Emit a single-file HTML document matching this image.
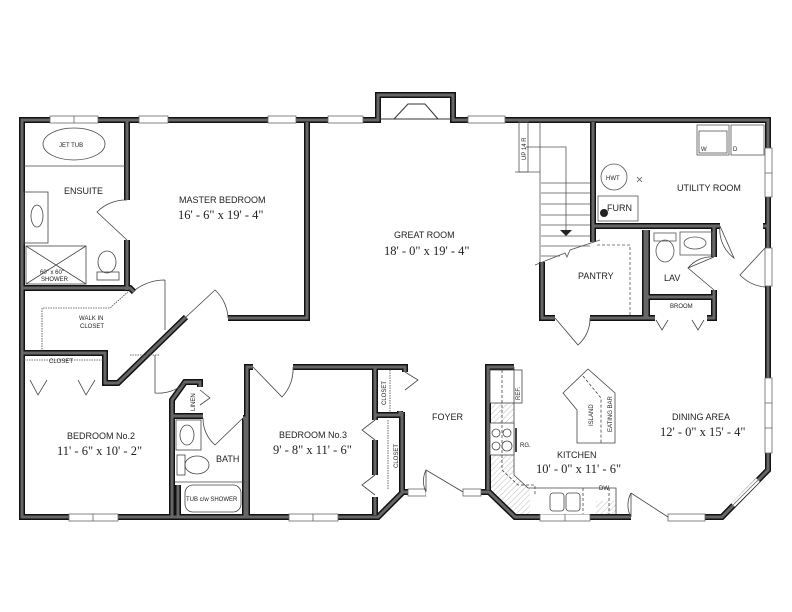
<!DOCTYPE html>
<html><head><meta charset="utf-8"><style>
html,body{margin:0;padding:0;background:#fff;}
svg{display:block;}
text{font-family:"Liberation Sans",sans-serif;fill:#222;}
.s{font-family:"Liberation Serif",serif;font-size:12.5px;}
.l{font-size:9px;}
.t{font-size:6px;}
</style></head><body>
<svg width="792" height="612" viewBox="0 0 792 612" xmlns="http://www.w3.org/2000/svg">
<defs>
<pattern id="h" width="4" height="4" patternUnits="userSpaceOnUse" patternTransform="rotate(45)"><line x1="0" y1="0" x2="0" y2="4" stroke="#bbb" stroke-width="1"/></pattern>
<g id="w" fill="none">
<path d="M22,120 H378 V95 H453 V120 H768 V470 L722,517 H515 L489,492 H403 L378,517 H22 Z"/>
<path d="M127,120 V200 M127,240 V290 M22,288 H130 L134,292"/>
<path d="M307,122 V318 H228"/>
<path d="M186,317 L118,383 H105 V353 H22"/>
<path d="M172,517 V400 L185,382 H200 V387 M172,416 H203"/>
<path d="M247,517 V367 H253 M293,367 H405 V372 M245,517 V418 H243"/>
<path d="M375,367 V420 M375,440 V475 M375,497 V515 M375,415 H400 V411 M402,412 V492"/>
<path d="M514,367 H488 V490"/>
<path d="M593,122 V242 M593,226 H720 M763,226 H768"/>
<path d="M542,262 V318 H555 M590,318 H645 V230 M647,230 V318 H655 M714,226 V257 M714,290 V318 H707 M647,297 H714"/>
<path d="M178,485 V517"/>
</g>
</defs>
<path d="M490,370 H514 V475 L530,488 H616 V514 H517 L490,490 Z" fill="url(#h)"/>
<use href="#w" stroke="#111" stroke-width="6"/>
<use href="#w" stroke="#666" stroke-width="3"/>
<polygon points="383,119 383,100 448,100 448,119" fill="#fff"/>
<polyline points="394,119 408,104 425,104 438,119" fill="none" stroke="#333" stroke-width="1"/>
<line x1="380" y1="119" x2="451" y2="119" stroke="#333"/>
<g fill="#fff" stroke="#666" stroke-width="0.8">
<rect x="50" y="116" width="48" height="7"/><line x1="74" y1="116" x2="74" y2="123"/>
<rect x="139" y="116" width="29" height="7"/>
<rect x="268" y="116" width="28" height="7"/>
<rect x="328" y="116" width="35" height="7"/>
<rect x="468" y="116" width="37" height="7"/>
<rect x="765" y="148" width="7" height="49"/><line x1="765" y1="173" x2="772" y2="173"/>
<rect x="765" y="248" width="7" height="38"/>
<rect x="765" y="378" width="7" height="75"/><line x1="765" y1="403" x2="772" y2="403"/><line x1="765" y1="428" x2="772" y2="428"/>
<rect x="69" y="514" width="49" height="7"/><line x1="93" y1="514" x2="93" y2="521"/>
<rect x="289" y="514" width="49" height="7"/><line x1="313" y1="514" x2="313" y2="521"/>
<rect x="540" y="514" width="50" height="7"/><line x1="565" y1="514" x2="565" y2="521"/>
<rect x="631" y="514" width="37" height="7" stroke="none"/>
<rect x="668" y="514" width="37" height="7"/>
<rect x="408" y="489" width="18" height="7"/><rect x="426" y="489" width="37" height="7" stroke="none"/><rect x="463" y="489" width="18" height="7"/>
</g>
<line x1="733" y1="505" x2="758" y2="480" stroke="#fff" stroke-width="5"/>
<line x1="733" y1="505" x2="758" y2="480" stroke="#666" stroke-width="0.8"/>
<g fill="none" stroke="#444" stroke-width="0.8">
<path d="M127,240 L97,212 A40,40 0 0 1 127,200"/>
<path d="M165,280 V330 M165,280 A50,50 0 0 0 135,290"/>
<path d="M185,318 L215,290 A40,40 0 0 1 228,318"/>
<path d="M155,355 V393 A40,40 0 0 0 185,383"/>
<path d="M253,367 L282,397 A40,40 0 0 0 293,367"/>
<path d="M243,418 L215,445 A35,35 0 0 1 203,418"/>
<path d="M426,492 V470 L463,492 M426,470 A25,25 0 0 0 426,492"/>
<path d="M631,517 V493 M631,493 L668,517 M631,493 A25,25 0 0 0 631,517"/>
<path d="M555,318 L578,345 A35,35 0 0 0 590,318"/>
<path d="M720,226 L734,258 A35,35 0 0 1 720,226"/>
<path d="M765,248 L740,275 A40,40 0 0 0 765,287"/>
<path d="M714,257 L688,268 L714,290 M688,268 A30,30 0 0 1 714,257"/>
<path d="M30,380 L38,395 L47,380 M78,380 L86,395 L95,380"/>
<path d="M656,320 L662,330 L668,320 M692,320 L698,330 L704,320"/>
<path d="M375,420 L362,430 L375,440 M375,475 L362,485 L375,495"/>
<path d="M405,372 L418,380 L405,390 M200,390 L210,398 L200,405"/>
</g>
<g fill="none" stroke="#444" stroke-width="0.8">
<ellipse cx="74" cy="144" rx="31" ry="16"/>
<line x1="24" y1="166" x2="125" y2="166"/>
<rect x="24" y="192" width="24" height="51"/><ellipse cx="37" cy="216" rx="6" ry="11"/>
<rect x="26" y="246" width="60" height="38"/><line x1="26" y1="246" x2="86" y2="284"/><line x1="86" y1="246" x2="26" y2="284"/>
<ellipse cx="107" cy="262" rx="9" ry="11"/><rect x="97" y="272" width="22" height="8"/>
<path d="M42,352 V308 H110 L130,290" stroke-dasharray="1.5,1"/>
<path d="M24,360 H103 M130,355 H160" stroke-dasharray="1.5,1"/>
<rect x="176" y="420" width="25" height="30"/><ellipse cx="187" cy="435" rx="7" ry="10"/>
<rect x="177" y="455" width="8" height="20"/><ellipse cx="197" cy="465" rx="12" ry="9"/>
<line x1="175" y1="482" x2="245" y2="482"/>
<rect x="185" y="485" width="56" height="27" rx="8"/>
<path d="M390,370 V412 M388,420 V490" stroke-dasharray="1.5,1"/>
</g>
<g fill="none" stroke="#555" stroke-width="0.8">
<rect x="519" y="122" width="9" height="50"/>
<line x1="540" y1="122" x2="540" y2="262"/>
<polyline points="515,172 540,172"/>
<path d="M541,183 H590 M541,193 H590 M541,204 H590 M541,215 H590 M541,225 H590 M541,236 H590 M541,246 H590 M541,256 H560"/>
<path d="M526,147 H566 V230"/>
<path d="M535,265 L565,253 L567,257 L570,250 L600,240"/>
<path d="M597,245 H630 V315" stroke-dasharray="3,2"/>
<rect x="598" y="196" width="40" height="25"/>
<circle cx="614" cy="177" r="13"/>
<path d="M637,177 l5,5 m0,-5 l-5,5"/>
<rect x="697" y="125" width="32" height="30"/><rect x="699" y="131" width="28" height="22"/><rect x="731" y="125" width="33" height="30"/>
<rect x="654" y="233" width="22" height="8"/><ellipse cx="665" cy="251" rx="9" ry="11"/>
<rect x="680" y="232" width="32" height="23"/><ellipse cx="695" cy="243" rx="11" ry="6"/>
</g>
<polygon points="560,230 572,230 566,236" fill="#222"/>
<circle cx="604" cy="213" r="4" fill="#222"/>
<g fill="none" stroke="#444" stroke-width="0.8">
<rect x="530" y="488" width="86" height="26" fill="#fff" stroke="none"/>
<rect x="596" y="501" width="20" height="13" fill="url(#h)" stroke="none"/>
<path d="M514,367 V475 L528,488 H616 V514"/>
<rect x="490" y="370" width="32" height="33" fill="#fff"/><line x1="514" y1="370" x2="514" y2="403"/>
<rect x="490" y="423" width="24" height="32" fill="#fff"/>
<circle cx="496" cy="433" r="4"/><circle cx="507" cy="433" r="4"/><circle cx="496" cy="446" r="4"/><circle cx="507" cy="446" r="5"/>
<line x1="516" y1="428" x2="516" y2="452" stroke-width="2"/>
<rect x="550" y="493" width="14" height="18" rx="3"/><rect x="566" y="493" width="14" height="18" rx="3"/>
<path d="M583,488 V514 M609,488 V514 M502,370 V470 L518,485 H535 V495" stroke-dasharray="3,2"/>
<polygon points="563,393 588,369 615,393 615,443 577,443 577,410" fill="#fff"/>
<path d="M583,376 L601,398 V443" stroke-dasharray="3,2"/>
</g>
<text class="t" x="59" y="147">JET TUB</text>
<text class="l" x="64" y="194">ENSUITE</text>
<text class="t" x="40" y="274">60" x 60"</text><text class="t" x="41" y="281">SHOWER</text>
<text class="l" x="179" y="203">MASTER BEDROOM</text>
<text class="s" x="178" y="219">16' - 6" x 19' - 4"</text>
<text class="l" x="394" y="238">GREAT ROOM</text>
<text class="s" x="384" y="255">18' - 0" x 19' - 4"</text>
<text class="t" x="79" y="320">WALK IN</text><text class="t" x="80" y="328">CLOSET</text>
<text class="t" x="49" y="363">CLOSET</text>
<text class="l" x="67" y="439">BEDROOM No.2</text>
<text class="s" x="57" y="455">11' - 6" x 10' - 2"</text>
<text class="l" x="279" y="438">BEDROOM No.3</text>
<text class="s" x="273" y="454">9' - 8" x 11' - 6"</text>
<text class="l" x="216" y="462">BATH</text>
<text class="t" x="186" y="501">TUB c/w SHOWER</text>
<text class="l" x="432" y="420">FOYER</text>
<text class="l" x="677" y="191">UTILITY ROOM</text>
<text class="t" x="606" y="180">HWT</text>
<text class="l" x="607" y="211">FURN</text>
<text class="t" x="701" y="151">W</text><text class="t" x="733" y="151">D</text>
<text class="l" x="578" y="279">PANTRY</text>
<text class="l" x="664" y="281">LAV</text>
<text class="t" x="670" y="308">BROOM</text>
<text class="l" x="672" y="420">DINING AREA</text>
<text class="s" x="660" y="436">12' - 0" x 15' - 4"</text>
<text class="l" x="557" y="458">KITCHEN</text>
<text class="s" x="536" y="473">10' - 0" x 11' - 6"</text>
<text class="t" x="520" y="447">RG.</text>
<text class="t" x="599" y="490">DW.</text>
<text class="t" transform="translate(520,400) rotate(-90)">REF.</text>
<text class="t" transform="translate(593,426) rotate(-90)">ISLAND</text>
<text class="t" transform="translate(612,432) rotate(-90)">EATING BAR</text>
<text class="t" transform="translate(526,160) rotate(-90)">UP 14 R</text>
<text class="t" transform="translate(195,411) rotate(-90)">LINEN</text>
<text class="t" transform="translate(386,405) rotate(-90)">CLOSET</text>
<text class="t" transform="translate(398,468) rotate(-90)">CLOSET</text>
</svg>
</body></html>
